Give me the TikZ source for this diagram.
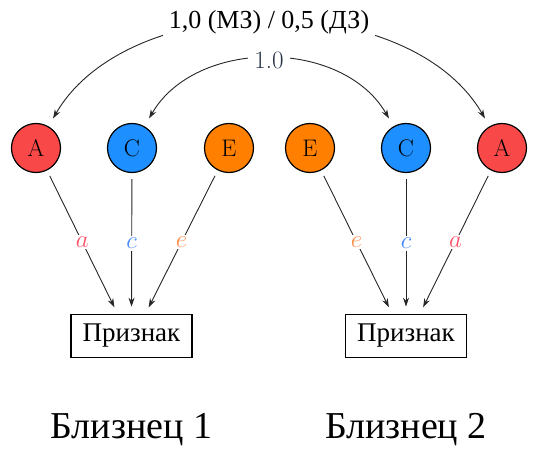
\documentclass[tikz,border=0pt]{standalone}
\usepackage{fontspec}
\usepackage{tikz}
\usetikzlibrary{positioning, arrows.meta}

\newfontfamily\cyrfont{Liberation Serif}

\definecolor{redA}{HTML}{F84848}
\definecolor{blueC}{HTML}{1E8FFF}
\definecolor{orangeE}{HTML}{FF8000}
\definecolor{redlab}{HTML}{FF5068}
\definecolor{bluelab}{HTML}{4A8CFF}
\definecolor{orangelab}{HTML}{FF8C48}
\definecolor{shared}{HTML}{283448}

\begin{document}
\begin{tikzpicture}[x=1pt, y=1pt,
  factor/.style={draw, circle, line width=1.2pt, minimum size=49pt, inner sep=0pt, font=\fontsize{24}{28}\selectfont},
  trait/.style={draw, rectangle, line width=1.7pt, minimum width=121pt, minimum height=43pt, inner sep=0pt, font=\fontsize{27}{30}\selectfont\cyrfont},
  path/.style={-{Stealth[length=9pt, width=6pt]}, line width=0.9pt, draw=black!85, shorten <=6pt, shorten >=7pt},
  corr/.style={{Stealth[length=9pt, width=6pt]}-{Stealth[length=9pt, width=6pt]}, line width=0.9pt, draw=black!85, shorten <=9pt, shorten >=9pt},
  coef/.style={fill=white, inner sep=2pt, font=\fontsize{25}{28}\selectfont}]
\useasboundingbox (0,0) rectangle (538,448);

% twin 1
\node (a1) [factor, fill=redA] at (36,300) {A};
\node (c1) [factor, fill=blueC] at (132,300) {C};
\node (e1) [factor, fill=orangeE] at (229,300) {E};
\node (trait1) [trait] at (131.5,112) {Признак};
\node (twin1) [anchor=base, font=\fontsize{38}{42}\selectfont\cyrfont] at (131.5,10) {Близнец 1};

% twin 2
\node (e2) [factor, fill=orangeE] at (310,300) {E};
\node (c2) [factor, fill=blueC] at (406,300) {C};
\node (a2) [factor, fill=redA] at (502,300) {A};
\node (trait2) [trait] at (406,112) {Признак};
\node (twin2) [anchor=base, font=\fontsize{38}{42}\selectfont\cyrfont] at (406,10) {Близнец 2};

\draw[path] (a1) -- node[coef, text=redlab] {$a$} ([xshift=-14pt]trait1.north);
\draw[path] (c1) -- node[coef, text=bluelab] {$c$} (trait1.north);
\draw[path] (e1) -- node[coef, text=orangelab] {$e$} ([xshift=14pt]trait1.north);

\draw[path] (e2) -- node[coef, text=orangelab] {$e$} ([xshift=-14pt]trait2.north);
\draw[path] (c2) -- node[coef, text=bluelab] {$c$} (trait2.north);
\draw[path] (a2) -- node[coef, text=redlab] {$a$} ([xshift=14pt]trait2.north);

% correlations between twins
\draw[corr] (a1) to[out=60, in=120, looseness=0.93] node (genetic) [fill=white, inner sep=6pt, font=\fontsize{26}{28}\selectfont\cyrfont] {1,0 (МЗ) / 0,5 (ДЗ)} (a2);
\draw[corr] (c1) to[out=60, in=120, looseness=1.05] node (common) [fill=white, inner sep=6pt, text=shared, font=\fontsize{25}{28}\selectfont] {1.0} (c2);
\end{tikzpicture}
\end{document}
